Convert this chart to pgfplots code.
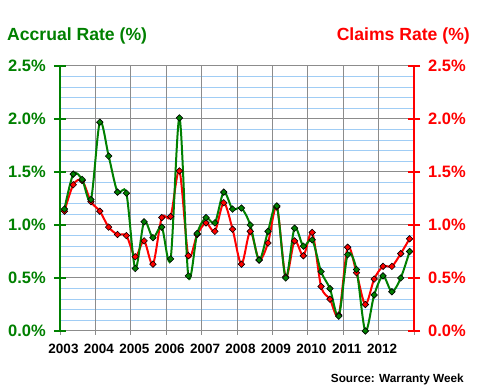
\documentclass[border=0pt]{standalone}
\usepackage{pgfplots}
\pgfplotsset{compat=1.18}
\usepackage{fontspec}
\setmainfont{Liberation Sans}
\definecolor{xlgreen}{RGB}{0,128,0}
\definecolor{xlred}{RGB}{255,0,0}
\definecolor{gridgray}{RGB}{140,140,140}
\definecolor{gridblue}{RGB}{160,205,245}
\pgfplotstableread{
x g r
0.125 1.15 1.13
0.375 1.48 1.38
0.625 1.43 1.42
0.875 1.24 1.22
1.125 1.97 1.13
1.375 1.65 0.98
1.625 1.31 0.91
1.875 1.30 0.90
2.125 0.59 0.70
2.375 1.03 0.85
2.625 0.88 0.63
2.875 0.98 1.07
3.125 0.68 1.08
3.375 2.01 1.51
3.625 0.52 0.71
3.875 0.92 0.91
4.125 1.07 1.02
4.375 1.02 0.94
4.625 1.31 1.21
4.875 1.15 0.96
5.125 1.16 0.63
5.375 1.00 0.94
5.625 0.67 0.67
5.875 0.94 0.83
6.125 1.18 1.17
6.375 0.50 0.51
6.625 0.97 0.85
6.875 0.80 0.71
7.125 0.86 0.93
7.375 0.56 0.42
7.625 0.40 0.30
7.875 0.14 0.15
8.125 0.72 0.79
8.375 0.58 0.55
8.625 0.00 0.25
8.875 0.34 0.49
9.125 0.52 0.61
9.375 0.37 0.61
9.625 0.50 0.73
9.875 0.75 0.87
}\datatable
\begin{document}
\begin{tikzpicture}
\useasboundingbox (0,0) rectangle (480bp,390bp);
\pgfplotsset{
  base/.style={
    at={(60bp,59bp)}, anchor=south west,
    width=354bp, height=265bp, scale only axis,
    xmin=0, xmax=10, ymin=0, ymax=2.5,
    /pgf/number format/assume math mode=true,
  }
}
% horizontal grid drawn as full-width y ticks
\begin{axis}[base,
  axis line style={draw=none},
  xtick=\empty,
  ytick={0.5,1,1.5,2,2.5},
  minor ytick={0.1,0.2,0.3,0.4,0.6,0.7,0.8,0.9,1.1,1.2,1.3,1.4,1.6,1.7,1.8,1.9,2.1,2.2,2.3,2.4},
  yticklabels={},
  ytick pos=left, tick align=inside,
  major tick length=354bp, minor tick length=354bp,
  every major y tick/.append style={draw=gridgray, line width=1bp},
  every minor y tick/.append style={draw=gridblue, line width=1bp},
]
\addplot[draw=none] coordinates {(0,0)};
\end{axis}
% vertical grid
\begin{axis}[base,
  axis line style={draw=none},
  tick style={draw=none},
  xtick={0,1,2,3,4,5,6,7,8,9,10},
  ytick=\empty,
  xticklabels={},
  xmajorgrids,
  major grid style={draw=gridgray, line width=1bp},
]
\addplot[draw=none] coordinates {(0,0)};
\end{axis}
% x axis and data
\begin{axis}[base,
  axis x line*=bottom, axis y line=none,
  x axis line style={draw=gridgray, line width=1bp, -},
  xtick={0,1,...,10},
  xticklabels={2003,2004,2005,2006,2007,2008,2009,2010,2011,2012,},
  xticklabel style={font=\fontsize{13.5bp}{15bp}\selectfont\bfseries, text=black, anchor=north, inner sep=0pt, xshift=3.5bp, yshift=-9bp},
  tick align=outside, major tick length=4bp,
  x tick style={draw=gridgray, line width=1bp},
  clip=false,
]
\addplot[xlred, line width=2bp, smooth, tension=0.5,
  mark=square*, mark size=2.3bp,
  mark options={fill=xlred, draw=black, line width=0.6bp, rotate=45}]
  table[x=x, y=r] {\datatable};
\addplot[xlgreen, line width=2bp, smooth, tension=0.5,
  mark=square*, mark size=2.3bp,
  mark options={fill=xlgreen, draw=black, line width=0.6bp, rotate=45}]
  table[x=x, y=g] {\datatable};
\end{axis}
% left axis (green)
\begin{axis}[base,
  axis y line*=left, axis x line=none,
  y axis line style={draw=xlgreen, line width=2.5bp, -},
  ytick={0,0.5,...,2.5},
  tick align=center, major tick length=12bp,
  y tick style={draw=xlgreen, line width=2bp},
  yticklabel={\pgfmathprintnumber[fixed,fixed zerofill,precision=1]{\tick}\%},
  yticklabel style={font=\fontsize{16.5bp}{18bp}\selectfont\bfseries, text=xlgreen, anchor=east, inner sep=0pt, xshift=-8bp},
]
\addplot[draw=none] coordinates {(0,0)};
\end{axis}
% right axis (red)
\begin{axis}[base,
  axis y line*=right, axis x line=none,
  y axis line style={draw=xlred, line width=2.5bp, -},
  ytick={0,0.5,...,2.5},
  tick align=center, major tick length=12bp,
  y tick style={draw=xlred, line width=2bp},
  yticklabel={\pgfmathprintnumber[fixed,fixed zerofill,precision=1]{\tick}\%},
  yticklabel style={font=\fontsize{16.5bp}{18bp}\selectfont\bfseries, text=xlred, anchor=west, inner sep=0pt, xshift=8bp},
]
\addplot[draw=none] coordinates {(0,0)};
\end{axis}
\node[anchor=west, inner sep=0pt, text=xlgreen, font=\fontsize{17.6bp}{20bp}\selectfont\bfseries] at (7bp,354.5bp) {Accrual Rate (\%)};
\node[anchor=east, inner sep=0pt, text=xlred, font=\fontsize{17.6bp}{20bp}\selectfont\bfseries] at (470bp,354.5bp) {Claims Rate (\%)};
\node[anchor=east, inner sep=0pt, text=black, font=\fontsize{11.8bp}{13bp}\selectfont\bfseries] at (464bp,10.5bp) {Source: Warranty Week};
\end{tikzpicture}
\end{document}
